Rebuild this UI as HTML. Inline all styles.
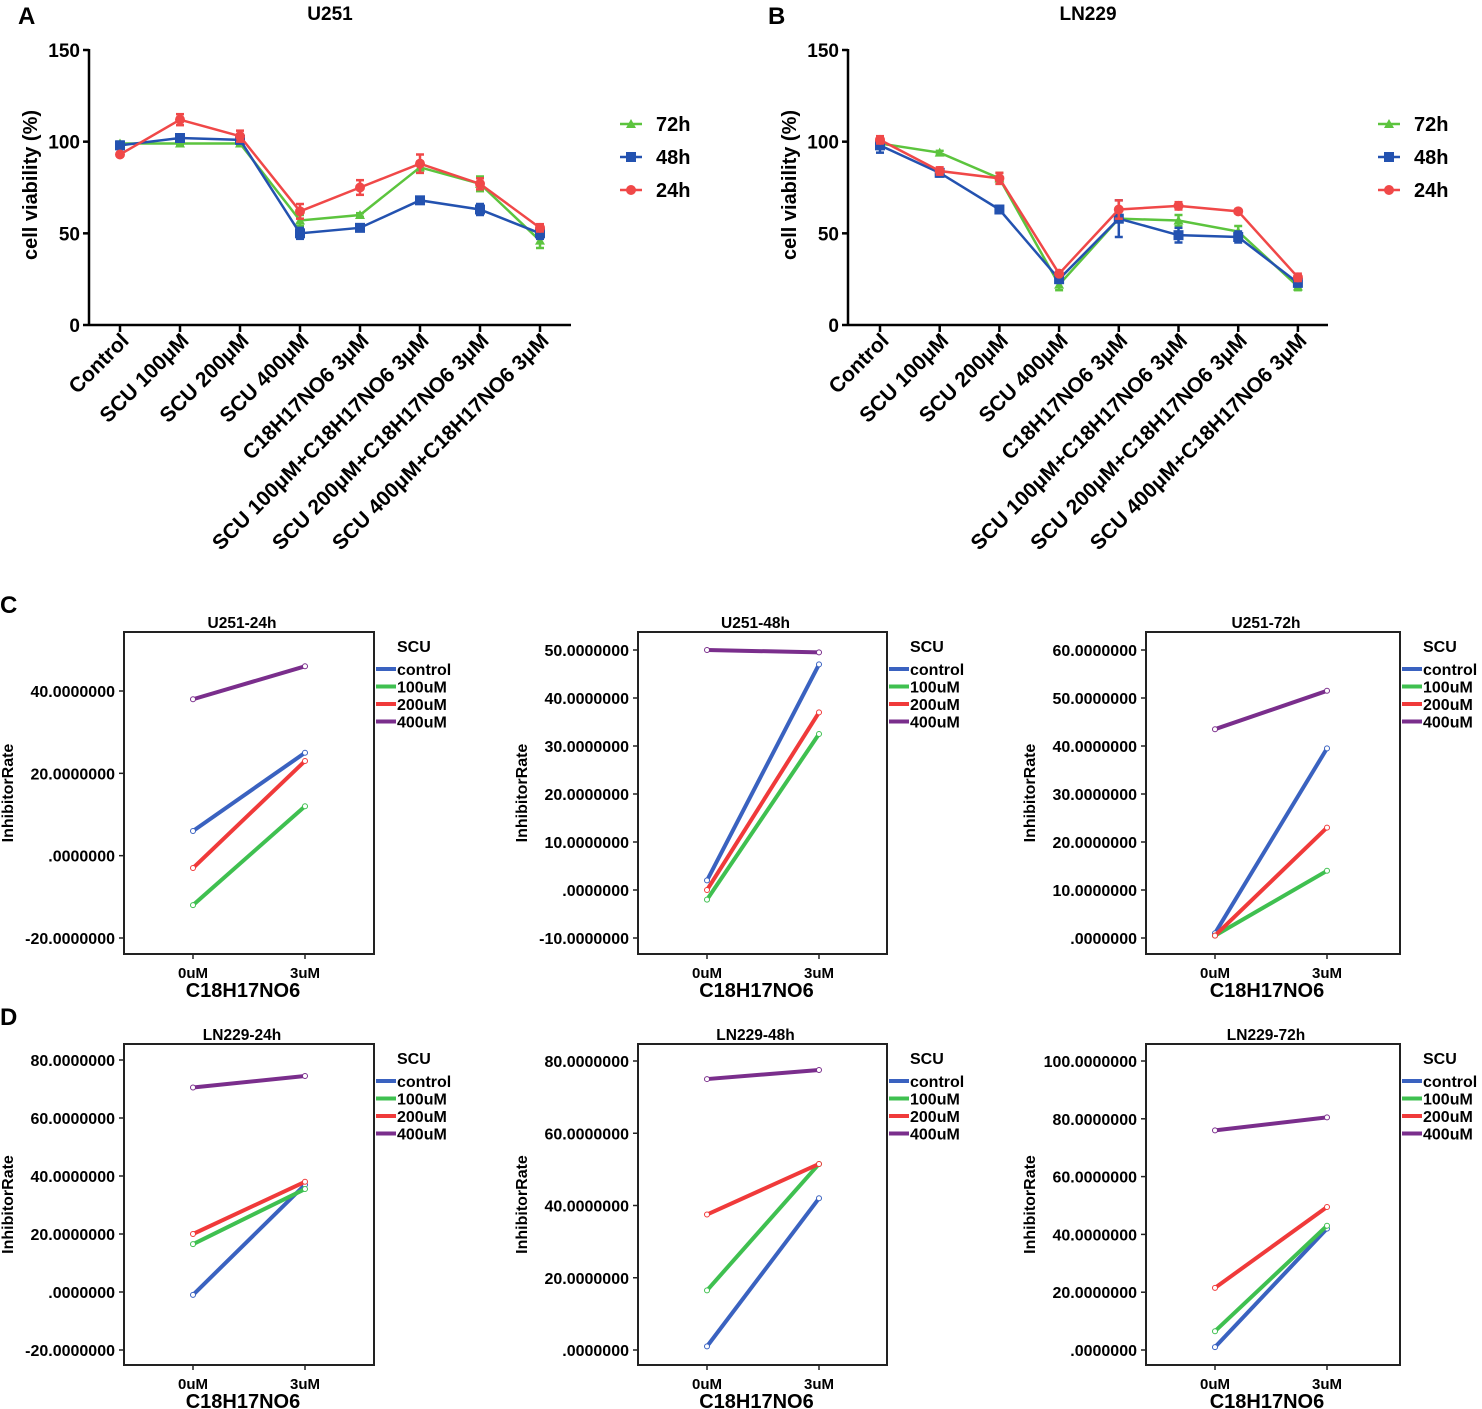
<!DOCTYPE html>
<html><head><meta charset="utf-8"><style>
body{margin:0;background:#fff}
svg{display:block;font-family:"Liberation Sans",Arial,sans-serif;font-weight:bold}
</style></head><body>
<svg id="s" width="1482" height="1409" viewBox="0 0 1482 1409"></svg>
<script>
const NS="http://www.w3.org/2000/svg";
const svg=document.getElementById('s');
function el(t,a,p){const e=document.createElementNS(NS,t);for(const k in a)e.setAttribute(k,a[k]);(p||svg).appendChild(e);return e;}
function tx(x,y,s,a,p){const e=el('text',Object.assign({x:x,y:y},a),p);e.textContent=s;return e;}

const cats=["Control","SCU 100μM","SCU 200μM","SCU 400μM","C18H17NO6 3μM","SCU 100μM+C18H17NO6 3μM","SCU 200μM+C18H17NO6 3μM","SCU 400μM+C18H17NO6 3μM"];
const seriesNames=["72h","48h","24h"];
const u251_72=[99,99,99,57,60,86,77,46];
const u251_48=[98,102,101,50,53,68,63,50];
const u251_24=[93,112,103,62,75,88,77,53];
const u251_err=[[1,1,1,3,1,3,4,4],[2,2,2,3,1,1,3,3],[1,3,3,4,4,5,3,2]];
const ln_72=[99,94,80,22,58,57,51,21];
const ln_48=[98,83,63,25,58,49,48,23];
const ln_24=[101,84,80,28,63,65,62,26];
const ln_err=[[1,1,3,3,2,3,3,2],[4,2,1,2,10,4,3,2],[2,2,3,1,5,2,1,2]];
const vTicks=[0,50,100,150];
const colors=["#5cc43e","#2352b0","#f04848"];

function lineChart(name,title,ax,x0,xStep,axEnd,legX,titleX,series,errs){
  const g=el('g',{},svg);
  
  
  const yS=v=>325-v*(275/150);
  const xS=i=>x0+i*xStep;
  tx(titleX,20,title,{'font-size':19,'text-anchor':'middle'},g);
  el('line',{x1:ax,y1:49,x2:ax,y2:326,stroke:'#000','stroke-width':2.5},g);
  el('line',{x1:ax,y1:325,x2:axEnd,y2:325,stroke:'#000','stroke-width':2.5},g);
  vTicks.forEach(v=>{el('line',{x1:ax-6,y1:yS(v),x2:ax,y2:yS(v),stroke:'#000','stroke-width':2.5},g);
    tx(ax-9,yS(v)+7,v,{'font-size':19,'text-anchor':'end'},g);});
  tx(0,0,"cell viability (%)",{'font-size':20,'text-anchor':'middle',transform:`translate(${ax-52},185) rotate(-90)`},g);
  cats.forEach((c,i)=>{el('line',{x1:xS(i),y1:325,x2:xS(i),y2:332,stroke:'#000','stroke-width':2.5},g);
    const t=tx(0,0,c,{'font-size':21,'text-anchor':'end',transform:`translate(${xS(i)+10},${342}) rotate(-45)`},g);
    });
  series.forEach((s,k)=>{
    const pts=s.map((v,i)=>xS(i)+','+yS(v)).join(' ');
    const pl=el('polyline',{points:pts,fill:'none',stroke:colors[k],'stroke-width':2.5},g);
    
    
    s.forEach((v,i)=>{const e=errs[k][i];
      el('line',{x1:xS(i),y1:yS(v+e),x2:xS(i),y2:yS(v-e),stroke:colors[k],'stroke-width':2.5},g);
      el('line',{x1:xS(i)-4,y1:yS(v+e),x2:xS(i)+4,y2:yS(v+e),stroke:colors[k],'stroke-width':2.5},g);
      el('line',{x1:xS(i)-4,y1:yS(v-e),x2:xS(i)+4,y2:yS(v-e),stroke:colors[k],'stroke-width':2.5},g);
      if(k==0) el('polygon',{points:`${xS(i)},${yS(v)-5} ${xS(i)-5},${yS(v)+4} ${xS(i)+5},${yS(v)+4}`,fill:colors[k]},g);
      else if(k==1) el('rect',{x:xS(i)-5,y:yS(v)-5,width:10,height:10,fill:colors[k]},g);
      else el('circle',{cx:xS(i),cy:yS(v),r:5,fill:colors[k]},g);
    });
    const ly=124+k*33;
    const lg=el('g',{},g);
    
    
    el('line',{x1:legX,y1:ly,x2:legX+22,y2:ly,stroke:colors[k],'stroke-width':2.5},lg);
    if(k==0) el('polygon',{points:`${legX+11},${ly-5} ${legX+6},${ly+4} ${legX+16},${ly+4}`,fill:colors[k]},lg);
    else if(k==1) el('rect',{x:legX+6,y:ly-5,width:10,height:10,fill:colors[k]},lg);
    else el('circle',{cx:legX+11,cy:ly,r:5,fill:colors[k]},lg);
    tx(legX+36,ly+7,seriesNames[k],{'font-size':20},lg);
  });
}
tx(18,24,"A",{'font-size':24});
tx(768,24,"B",{'font-size':24});
tx(0,613,"C",{'font-size':24});
tx(0,1025,"D",{'font-size':24});
lineChart('chart-u251','U251',89,120,60,571,620,330,[u251_72,u251_48,u251_24],u251_err);
lineChart('chart-ln229','LN229',848,880,59.7,1328,1378,1088,[ln_72,ln_48,ln_24],ln_err);

const groups=["control","100uM","200uM","400uM"];
const gColors=["#3a62c0","#3fc050","#f03a3a","#7a2e8c"];
const xCats=["0uM","3uM"];
const c1=[[6,25],[-12,12],[-3,23],[38,46]];
const c2=[[2,47],[-2,32.5],[0,37],[50,49.5]];
const c3=[[1,39.5],[0.5,14],[0.5,23],[43.5,51.5]];
const d1=[[-1,37],[16.5,35.5],[20,38],[70.5,74.5]];
const d2=[[1,42],[16.5,51.5],[37.5,51.5],[75,77.5]];
const d3=[[1,42],[6.5,43],[21.5,49.5],[76,80.5]];
const c1Ticks=[-20,0,20,40], c2Ticks=[-10,0,10,20,30,40,50], c3Ticks=[0,10,20,30,40,50,60];
const d1Ticks=[-20,0,20,40,60,80], d2Ticks=[0,20,40,60,80], d3Ticks=[0,20,40,60,80,100];
function fmt(v){if(v==0)return ".0000000";return v.toFixed(7);}
function small(name,title,bx,by,bw,bh,ticks,t0,y0,t1,y1,data){
  const g=el('g',{},svg);
  
  
  const yS=v=>y0+(v-t0)*(y1-y0)/(t1-t0);
  const xS=i=>bx+69+i*112;
  tx(bx+bw/2-7,by-4,title,{'font-size':15.5,'text-anchor':'middle'},g);
  el('rect',{x:bx,y:by,width:bw,height:bh,fill:'none',stroke:'#222','stroke-width':2},g);
  ticks.forEach(v=>{el('line',{x1:bx-5,y1:yS(v),x2:bx,y2:yS(v),stroke:'#222','stroke-width':1.5},g);
    tx(bx-9,yS(v)+6,fmt(v),{'font-size':16,'text-anchor':'end'},g);});
  tx(0,0,"InhibitorRate",{'font-size':16,'text-anchor':'middle',transform:`translate(${bx-111},${by+bh*0.5}) rotate(-90)`},g);
  xCats.forEach((c,i)=>{el('line',{x1:xS(i),y1:by+bh,x2:xS(i),y2:by+bh+5,stroke:'#222','stroke-width':1.5},g);
    tx(xS(i),by+bh+24,c,{'font-size':15,'text-anchor':'middle'},g);});
  tx(bx+bw/2-6,by+bh+43,"C18H17NO6",{'font-size':20,'text-anchor':'middle'},g);
  data.forEach((d,k)=>{
    const ln=el('line',{x1:xS(0),y1:yS(d[0]),x2:xS(1),y2:yS(d[1]),stroke:gColors[k],'stroke-width':4},g);
    
    
    d.forEach((v,i)=>el('circle',{cx:xS(i),cy:yS(v),r:2.5,fill:'#fff',stroke:gColors[k],'stroke-width':1},g));
    const ly=by+37+k*17.5;
    el('line',{x1:bx+bw+2,y1:ly,x2:bx+bw+22,y2:ly,stroke:gColors[k],'stroke-width':4},g);
    tx(bx+bw+23,ly+6,groups[k],{'font-size':16},g);
  });
  tx(bx+bw+23,by+20,"SCU",{'font-size':16},g);
}
small('plot-u251-24h','U251-24h',124,632,250,322,c1Ticks,40,691,-20,938,c1);
small('plot-u251-48h','U251-48h',638,632,249,322,c2Ticks,50,650,-10,938,c2);
small('plot-u251-72h','U251-72h',1146,632,254,322,c3Ticks,60,650,0,938,c3);
small('plot-ln229-24h','LN229-24h',124,1044,250,321,d1Ticks,80,1060,-20,1350,d1);
small('plot-ln229-48h','LN229-48h',638,1044,249,321,d2Ticks,80,1061,0,1350,d2);
small('plot-ln229-72h','LN229-72h',1146,1044,254,321,d3Ticks,100,1061,0,1350,d3);
</script>
</body></html>
